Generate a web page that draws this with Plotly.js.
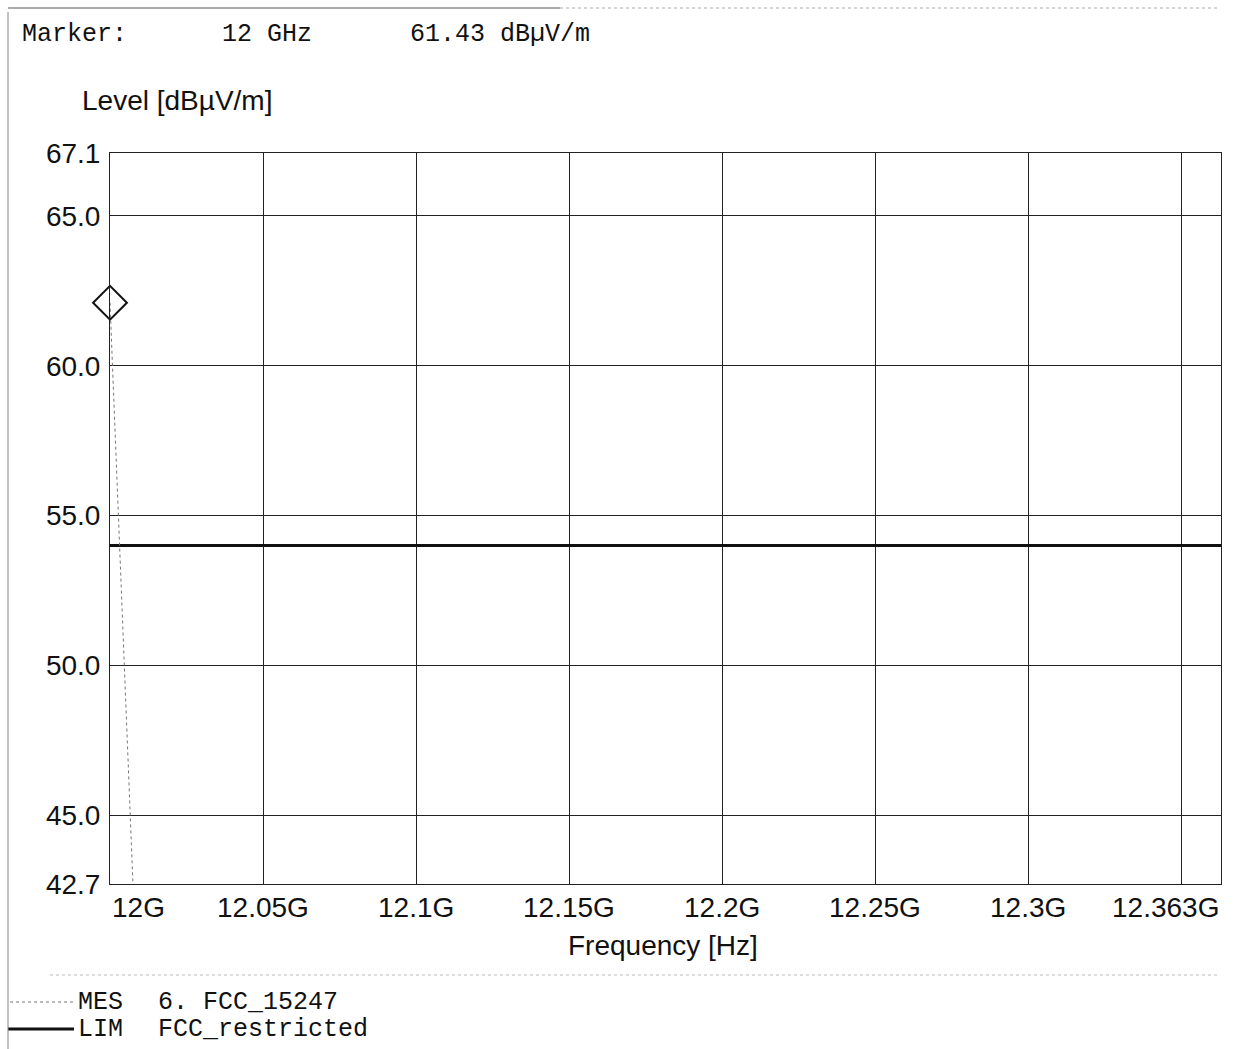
<!DOCTYPE html>
<html><head><meta charset="utf-8">
<script src="https://cdn.plot.ly/plotly-3.0.1.min.js"></script>
<style>body{margin:0;background:#fff}</style>
</head><body><div id="chart" style="width:1240px;height:1049px"></div>
<script>
// ---- data ----
const freqTicks = [12.0, 12.05, 12.1, 12.15, 12.2, 12.25, 12.3, 12.363];
const freqTickLabels = ['12G', '12.05G', '12.1G', '12.15G', '12.2G', '12.25G', '12.3G', '12.363G'];
const gridFreqs = [12.05, 12.1, 12.15, 12.2, 12.25, 12.3, 12.35];
const levelTicks = [42.7, 45, 50, 55, 60, 65, 67.1];
const levelTickLabels = ['42.7', '45.0', '50.0', '55.0', '60.0', '65.0', '67.1'];
const mesFreq = [12.0, 12.0075];
const mesLevel = [62.1, 42.7];
const limFreq = [12.0, 12.363];
const limLevel = [54.0, 54.0];
const markerFreq = [12.0];
const markerLevel = [62.1];
const headerTexts = ['Marker:', '12 GHz', '61.43 dBµV/m'];
const legendCodes = ['MES', 'LIM'];
const legendNames = ['6. FCC_15247', 'FCC_restricted'];

// ---- layout helpers ----
const W = 1240, H = 1049, L = 110, R = 19, T = 153, B = 165;
const pw = W - L - R, ph = H - T - B;
const px = x => (x - L) / pw;
const py = y => (H - B - y) / ph;
const mono = {family: 'Liberation Mono, DejaVu Sans Mono, monospace', size: 25, color: '#111'};
const sans = {family: 'Liberation Sans, Arial, sans-serif', size: 28, color: '#111'};

const traces = [
  {x: limFreq, y: limLevel, mode: 'lines', line: {color: '#111', width: 3}, hoverinfo: 'skip'},
  {x: mesFreq, y: mesLevel, mode: 'lines', line: {color: '#777', width: 1, dash: 'dot'}, hoverinfo: 'skip'},
  {x: markerFreq, y: markerLevel, mode: 'markers', cliponaxis: false,
   marker: {symbol: 'diamond-open', size: 26, color: '#111', line: {color: '#111', width: 2}}, hoverinfo: 'skip'}
];

const annotations = [];
freqTicks.forEach((f, i) => {
  const anchor = i === 0 ? 'left' : (i === freqTicks.length - 1 ? 'right' : 'center');
  annotations.push({x: f, xref: 'x', y: py(907), yref: 'paper', text: freqTickLabels[i],
    showarrow: false, xanchor: anchor, yanchor: 'middle', font: sans});
});
annotations.push({x: px(663), xref: 'paper', y: py(945), yref: 'paper', text: 'Frequency [Hz]',
  showarrow: false, xanchor: 'center', yanchor: 'middle', font: sans});
annotations.push({x: px(80), xref: 'paper', y: py(100), yref: 'paper', text: 'Level [dBµV/m]',
  showarrow: false, xanchor: 'left', yanchor: 'middle', font: sans});
const headerX = [20, 220, 408];
headerTexts.forEach((t, i) => annotations.push({x: px(headerX[i]), xref: 'paper', y: py(35), yref: 'paper',
  text: t, showarrow: false, xanchor: 'left', yanchor: 'middle', font: mono}));
const legY = [1002, 1029];
legendCodes.forEach((c, i) => {
  annotations.push({x: px(76), xref: 'paper', y: py(legY[i]), yref: 'paper', text: c,
    showarrow: false, xanchor: 'left', yanchor: 'middle', font: mono});
  annotations.push({x: px(156), xref: 'paper', y: py(legY[i]), yref: 'paper', text: legendNames[i],
    showarrow: false, xanchor: 'left', yanchor: 'middle', font: mono});
});

const shapes = [
  {type: 'line', xref: 'paper', yref: 'paper', x0: px(10), x1: px(75), y0: py(1002), y1: py(1002),
   line: {color: '#777', width: 1, dash: 'dot'}},
  {type: 'line', xref: 'paper', yref: 'paper', x0: px(8), x1: px(74), y0: py(1029), y1: py(1029),
   line: {color: '#111', width: 3}},
  {type: 'line', xref: 'paper', yref: 'paper', x0: px(8), x1: px(8), y0: py(12), y1: py(1049),
   line: {color: '#888', width: 1}},
  {type: 'line', xref: 'paper', yref: 'paper', x0: px(8), x1: px(560), y0: py(8), y1: py(8),
   line: {color: '#555', width: 1}},
  {type: 'line', xref: 'paper', yref: 'paper', x0: px(560), x1: px(1220), y0: py(8), y1: py(8),
   line: {color: '#aaa', width: 1, dash: 'dot'}},
  {type: 'line', xref: 'paper', yref: 'paper', x0: px(50), x1: px(1220), y0: py(975), y1: py(975),
   line: {color: '#bbb', width: 1, dash: 'dot'}}
];

const layout = {
  width: W, height: H, margin: {l: L, r: R, t: T, b: B},
  paper_bgcolor: '#fff', plot_bgcolor: '#fff', showlegend: false,
  xaxis: {range: [12.0, 12.363], tickvals: gridFreqs, showticklabels: false, ticks: '',
    showgrid: true, gridcolor: '#222', gridwidth: 1, zeroline: false,
    showline: true, mirror: true, linecolor: '#222', linewidth: 1},
  yaxis: {range: [42.7, 67.1], tickvals: levelTicks, ticktext: levelTickLabels, ticks: '',
    ticklabelstandoff: 3, tickfont: sans,
    showgrid: true, gridcolor: '#222', gridwidth: 1, zeroline: false,
    showline: true, mirror: true, linecolor: '#222', linewidth: 1},
  annotations: annotations, shapes: shapes
};
Plotly.newPlot('chart', traces, layout, {displayModeBar: false, staticPlot: true});
</script></body></html>
